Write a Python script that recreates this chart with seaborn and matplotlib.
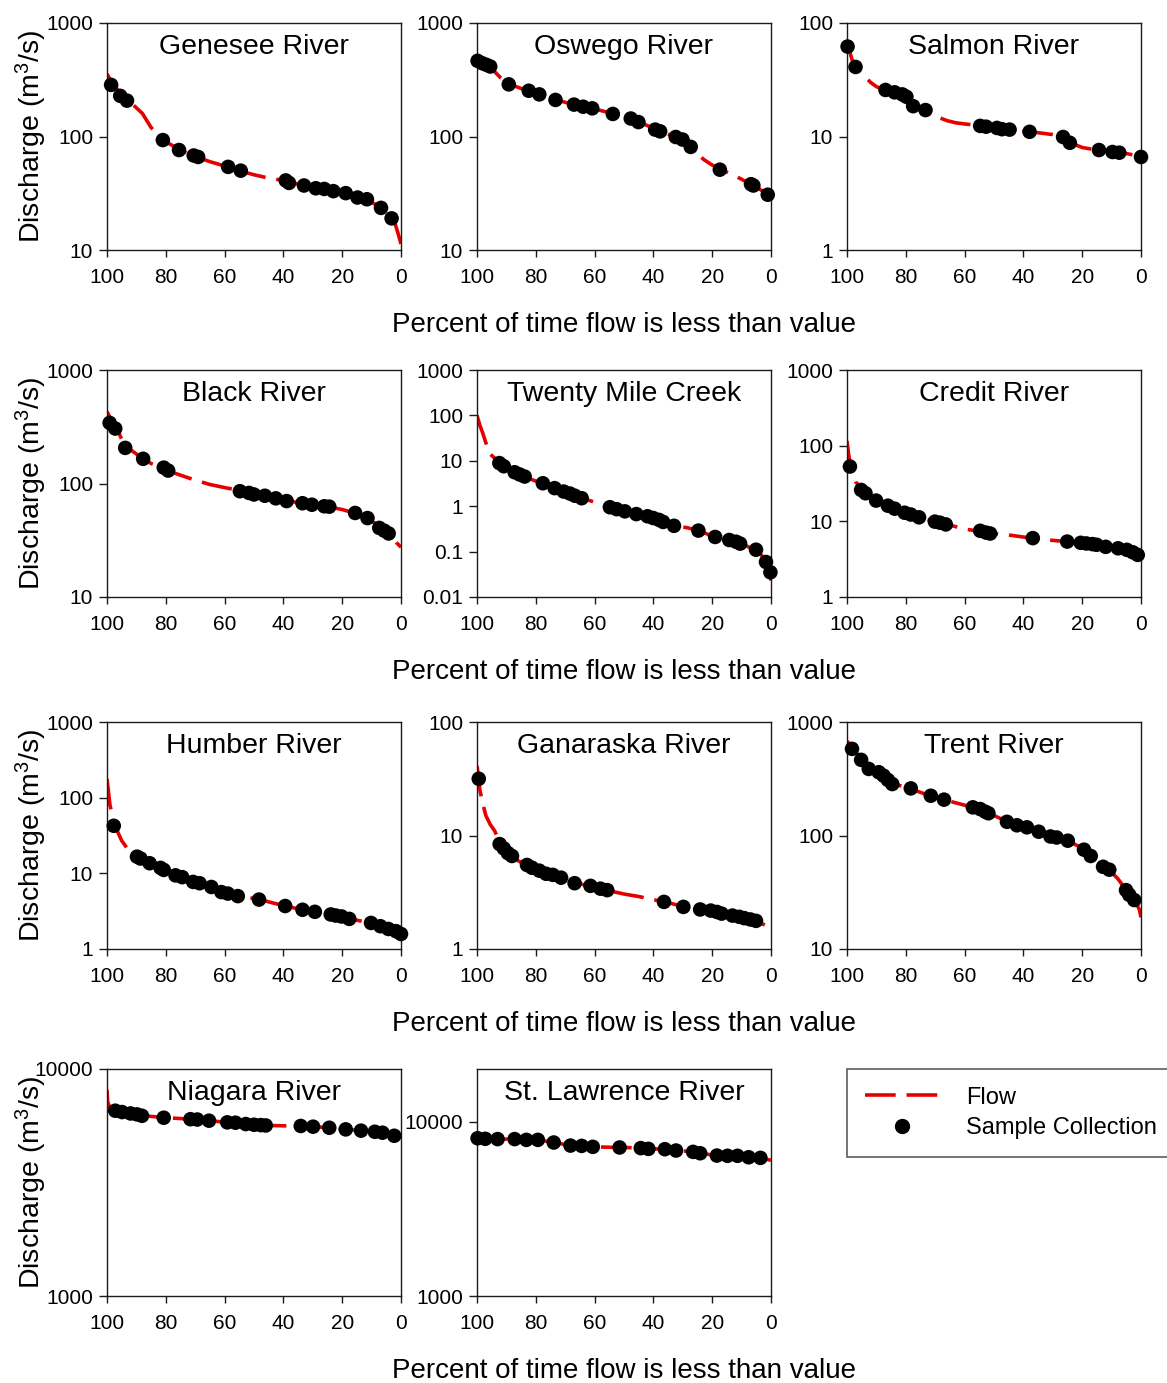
import matplotlib
matplotlib.use("Agg")
import matplotlib.pyplot as plt
from matplotlib.lines import Line2D
from matplotlib.ticker import NullLocator
import seaborn as sns

# flow duration curves (percent of time, discharge m3/s) and sample collection points
# all values

genesee_flow_pct = [100, 98, 95, 92, 88, 85, 81, 78, 74, 70, 65, 60, 55, 50, 45, 40, 35, 30, 25, 20, 15, 12, 9, 6, 4, 2, 1, 0]
genesee_flow_q = [355, 290, 235, 200, 160, 120, 93, 84, 74, 67, 60, 55, 50, 46, 43, 41, 38, 35.5, 34, 32, 29.5, 28, 25.5, 23, 20.5, 17, 14, 11.3]
genesee_pct = [98.6, 95.5, 93.2, 81.0, 75.5, 70.5, 69.0, 58.8, 54.5, 39.2, 38.1, 33, 29, 26.1, 23, 18.8, 14.8, 11.6, 6.8, 3.2]
genesee_q = [285, 228, 207, 93, 76, 68, 66, 54, 50, 41, 39, 37, 35, 34.5, 33, 31.7, 29, 28, 23.5, 19]

oswego_flow_pct = [100, 97, 95, 92, 89, 85, 80, 75, 70, 65, 60, 55, 50, 45, 40, 35, 30, 27, 23, 20, 17, 13, 10, 7, 4, 2, 0]
oswego_flow_q = [480, 430, 395, 330, 290, 265, 240, 218, 200, 186, 175, 162, 150, 135, 118, 105, 93, 80, 63, 56, 51, 46, 42, 38, 34.5, 32, 29.5]
oswego_pct = [99.8, 98.3, 96.8, 95.5, 89.2, 82.4, 78.8, 73.3, 67.0, 63.9, 60.8, 53.8, 47.7, 45.1, 39.4, 37.7, 32.4, 30.1, 27.3, 17.4, 6.8, 6.0, 1.1]
oswego_q = [464, 443, 428, 414, 288, 253, 235, 210, 191, 183, 177, 158, 144, 134, 115, 111, 99, 94, 81, 51, 38, 37, 30.7]

salmon_flow_pct = [100, 99, 98, 96, 94, 92, 90, 87, 84, 81, 78, 75, 72, 69, 66, 63, 60, 55, 50, 45, 40, 35, 30, 27, 24, 20, 15, 10, 7, 4, 2, 0]
salmon_flow_q = [64, 55, 45, 38, 34, 30, 27.5, 25.5, 24.3, 22.8, 19.5, 17.5, 16, 14.8, 13.8, 13.2, 12.9, 12.5, 12, 11.5, 11.1, 10.8, 10.4, 9.9, 8.8, 8.0, 7.6, 7.4, 7.2, 7.0, 6.8, 6.4]
salmon_pct = [99.8, 97.1, 86.9, 83.8, 81.2, 79.8, 77.5, 73.3, 54.7, 52.7, 49.0, 47.3, 44.7, 37.9, 26.5, 24.2, 14.3, 9.7, 7.4, 0]
salmon_q = [62, 41, 25.7, 24.5, 23.5, 22.4, 18.5, 17.1, 12.4, 12.2, 11.9, 11.6, 11.5, 11.0, 9.9, 8.8, 7.6, 7.3, 7.2, 6.6]

black_flow_pct = [100, 98, 96, 94, 91, 88, 85, 81, 78, 74, 70, 65, 60, 55, 50, 45, 40, 35, 30, 25, 20, 16, 12, 9, 7, 5, 3, 1.5, 0]
black_flow_q = [430, 340, 280, 215, 190, 167, 150, 137, 126, 116, 107, 98, 92, 87, 81, 76, 71, 68, 65, 62.5, 59, 55, 50, 45, 40.5, 37.5, 34, 30, 27.5]
black_pct = [99.1, 97.2, 93.8, 87.7, 80.7, 79.2, 54.8, 51.7, 50, 46.3, 42.6, 38.9, 33.5, 30.3, 26.1, 24.4, 15.6, 11.4, 7.4, 5.7, 4.2]
black_q = [342, 305, 206, 165, 138, 130, 85.5, 82.6, 80, 78, 74, 70, 67, 65, 63, 62.5, 55, 49.6, 40.6, 38.4, 36.3]

twenty_flow_pct = [100, 99, 98, 97, 95.5, 93, 91, 88, 85, 82, 78, 74, 70, 66, 62, 58, 55, 50, 45, 40, 36, 32, 28, 24, 20, 15, 11, 8, 5, 3, 1.5, 0.5, 0]
twenty_flow_q = [100, 60, 40, 25, 14, 10, 8, 6, 4.9, 4, 3.2, 2.5, 2.05, 1.7, 1.35, 1.12, 0.96, 0.79, 0.66, 0.56, 0.45, 0.37, 0.33, 0.28, 0.22, 0.18, 0.155, 0.13, 0.105, 0.08, 0.055, 0.035, 0.023]
twenty_pct = [92.4, 90.9, 87.2, 85.5, 83.8, 77.6, 73.6, 70.5, 68.4, 66.7, 64.4, 54.8, 52.5, 49.7, 45.8, 42.0, 40.1, 38.1, 36.7, 33.0, 24.7, 19.0, 14.2, 11.9, 10.5, 5.1, 1.7, 0.2]
twenty_q = [8.9, 7.6, 5.6, 5.0, 4.5, 3.2, 2.5, 2.1, 1.9, 1.7, 1.5, 0.95, 0.86, 0.77, 0.67, 0.60, 0.55, 0.50, 0.45, 0.37, 0.29, 0.21, 0.18, 0.165, 0.15, 0.11, 0.059, 0.035]

credit_flow_pct = [100, 99.5, 99, 98, 97, 95, 93, 90, 87, 84, 80, 76, 72, 68, 64, 60, 55, 50, 45, 40, 35, 30, 25, 20, 15, 10, 6, 3, 1, 0]
credit_flow_q = [115, 80, 60, 42, 33, 27, 22.5, 18.8, 16.5, 14.7, 13, 11.5, 10.4, 9.5, 8.7, 7.9, 7.4, 6.9, 6.6, 6.2, 5.9, 5.6, 5.4, 5.2, 4.9, 4.6, 4.3, 3.9, 3.5, 3.2]
credit_pct = [99.0, 95.2, 93.7, 90.1, 86.1, 83.8, 80.4, 78.3, 75.5, 70.1, 68.4, 66.4, 54.7, 52.7, 51.3, 36.8, 25.1, 20.5, 18.6, 16.5, 15.1, 12.0, 7.8, 4.8, 2.8, 1.1]
credit_q = [53, 26, 23.5, 18.8, 16.1, 14.7, 13.0, 12.3, 11.3, 9.9, 9.6, 9.1, 7.5, 7.1, 6.9, 6.0, 5.4, 5.2, 5.1, 5.0, 4.9, 4.6, 4.4, 4.2, 3.9, 3.6]

humber_flow_pct = [100, 99.5, 99, 98, 97, 95, 93, 90, 87, 84, 81, 78, 75, 72, 68, 64, 60, 56, 52, 48, 44, 40, 35, 30, 25, 20, 15, 10, 6, 3, 0]
humber_flow_q = [177, 120, 80, 55, 40, 27, 21, 16.5, 14.5, 12.8, 11.3, 9.8, 8.8, 8, 7.2, 6.4, 5.6, 5.1, 4.8, 4.5, 4.1, 3.75, 3.4, 3.1, 2.9, 2.65, 2.4, 2.2, 1.95, 1.75, 1.55]
humber_pct = [97.7, 89.8, 88.6, 85.5, 81.8, 80.7, 76.7, 74.4, 70.7, 68.5, 64.5, 61.1, 58.9, 55.5, 48.3, 39.4, 33.5, 29.3, 23.9, 22.2, 20.2, 17.6, 10.2, 7.0, 4.3, 1.7, 0]
humber_q = [42.5, 16.6, 15.7, 13.6, 11.8, 11.1, 9.4, 8.9, 7.7, 7.4, 6.6, 5.65, 5.4, 5.0, 4.5, 3.7, 3.3, 3.1, 2.86, 2.77, 2.69, 2.50, 2.21, 2.0, 1.84, 1.72, 1.58]

ganaraska_flow_pct = [100, 99.5, 99, 98, 97, 95.5, 94, 92.5, 91, 89, 87, 84, 81, 78, 75, 72, 68, 64, 60, 56, 50, 45, 40, 36, 30, 25, 20, 15, 10, 5, 2, 0]
ganaraska_flow_q = [41, 33, 25, 19, 15, 12.5, 11, 9, 7.8, 6.9, 6.2, 5.6, 5.2, 4.85, 4.5, 4.25, 3.95, 3.7, 3.5, 3.3, 3.05, 2.9, 2.72, 2.6, 2.37, 2.23, 2.15, 2.0, 1.9, 1.77, 1.62, 1.48]
ganaraska_pct = [99.4, 92.3, 90.9, 89.5, 88.1, 83.0, 81.3, 78.8, 76.5, 74.2, 71.4, 66.8, 61.4, 58.0, 55.7, 36.4, 29.8, 24.1, 20.5, 18.4, 16.8, 13.1, 10.8, 9.1, 7.0, 5.1]
ganaraska_q = [31.6, 8.4, 7.7, 7.0, 6.6, 5.5, 5.2, 4.9, 4.6, 4.5, 4.25, 3.8, 3.6, 3.4, 3.3, 2.6, 2.35, 2.23, 2.18, 2.12, 2.05, 1.97, 1.92, 1.87, 1.82, 1.77]

trent_flow_pct = [100, 98, 96, 94, 92, 90, 88, 86, 84, 80, 76, 72, 68, 64, 60, 56, 52, 48, 44, 40, 36, 32, 28, 24, 20, 17, 14, 11, 8, 5, 3, 1.5, 0.5, 0]
trent_flow_q = [680, 590, 500, 430, 385, 360, 335, 305, 285, 265, 245, 225, 210, 197, 185, 172, 158, 142, 129, 120, 111, 102, 95, 88, 77, 67, 57, 50, 42, 33, 28.5, 25, 22, 19]
trent_pct = [98.3, 95.2, 92.6, 89.2, 87.6, 86.1, 84.6, 78.3, 71.5, 67.0, 57.2, 54.7, 53.0, 51.9, 45.6, 42.2, 38.8, 34.8, 30.8, 28.7, 24.9, 19.4, 17.1, 12.9, 10.8, 5.1, 4.0, 2.3]
trent_q = [580, 464, 386, 361, 337, 309, 284, 260, 224, 207, 177, 171, 162, 157, 132, 123, 118, 108, 98, 96, 90, 75, 66, 53, 50, 33, 30, 27]

niagara_flow_pct = [100, 99.8, 99, 97, 94, 90, 86, 80, 75, 70, 65, 60, 55, 50, 45, 40, 35, 30, 25, 20, 15, 10, 6, 3, 0]
niagara_flow_q = [8100, 7200, 6700, 6550, 6450, 6320, 6200, 6100, 6050, 5990, 5920, 5830, 5780, 5690, 5640, 5620, 5610, 5570, 5520, 5440, 5370, 5300, 5230, 5120, 5000]
niagara_pct = [97.2, 94.9, 92.0, 89.8, 88.1, 80.7, 71.6, 69.3, 65.3, 59.1, 56.3, 52.8, 50.0, 47.7, 46.0, 34.1, 29.9, 24.4, 18.8, 13.6, 8.9, 6.3, 2.3]
niagara_q = [6550, 6460, 6370, 6310, 6220, 6100, 6010, 5990, 5920, 5820, 5800, 5720, 5680, 5660, 5640, 5610, 5570, 5510, 5420, 5350, 5290, 5240, 5080]

stlawrence_flow_pct = [100, 97, 93, 88, 84, 80, 76, 72, 68, 64, 60, 55, 50, 45, 40, 36, 32, 28, 24, 20, 16, 12, 8, 4, 0]
stlawrence_flow_q = [8100, 7990, 7940, 7920, 7870, 7840, 7700, 7480, 7290, 7240, 7160, 7120, 7100, 7050, 6970, 6940, 6830, 6740, 6600, 6420, 6370, 6350, 6250, 6180, 6000]
stlawrence_pct = [99.8, 97.2, 93.0, 87.2, 83.2, 79.3, 73.9, 68.2, 64.4, 60.6, 51.5, 44.3, 41.7, 36.1, 32.3, 26.5, 24.1, 18.4, 14.8, 11.4, 7.6, 3.6]
stlawrence_q = [8020, 7960, 7930, 7930, 7850, 7850, 7580, 7280, 7250, 7160, 7100, 7040, 6970, 6940, 6820, 6700, 6580, 6380, 6360, 6360, 6240, 6190]

river_names = ["Genesee River", "Oswego River", "Salmon River", "Black River",
               "Twenty Mile Creek", "Credit River", "Humber River", "Ganaraska River",
               "Trent River", "Niagara River", "St. Lawrence River"]
y_limits = [(10, 1000), (10, 1000), (1, 100), (10, 1000), (0.01, 1000), (1, 1000),
            (1, 1000), (1, 100), (10, 1000), (1000, 10000), (1000, 20000)]
y_ticks = [[10, 100, 1000], [10, 100, 1000], [1, 10, 100], [10, 100, 1000],
           [0.01, 0.1, 1, 10, 100, 1000], [1, 10, 100, 1000], [1, 10, 100, 1000],
           [1, 10, 100], [10, 100, 1000], [1000, 10000], [1000, 10000]]

panels = [
    (genesee_flow_pct, genesee_flow_q, genesee_pct, genesee_q),
    (oswego_flow_pct, oswego_flow_q, oswego_pct, oswego_q),
    (salmon_flow_pct, salmon_flow_q, salmon_pct, salmon_q),
    (black_flow_pct, black_flow_q, black_pct, black_q),
    (twenty_flow_pct, twenty_flow_q, twenty_pct, twenty_q),
    (credit_flow_pct, credit_flow_q, credit_pct, credit_q),
    (humber_flow_pct, humber_flow_q, humber_pct, humber_q),
    (ganaraska_flow_pct, ganaraska_flow_q, ganaraska_pct, ganaraska_q),
    (trent_flow_pct, trent_flow_q, trent_pct, trent_q),
    (niagara_flow_pct, niagara_flow_q, niagara_pct, niagara_q),
    (stlawrence_flow_pct, stlawrence_flow_q, stlawrence_pct, stlawrence_q),
]

RED = "#e60000"
DASH = (8.5, 3.0)
LW = 2.6

sns.set_style("ticks")
plt.rcParams["font.family"] = ["Liberation Sans", "DejaVu Sans"]
plt.rcParams["mathtext.default"] = "regular"
plt.rcParams["text.color"] = "black"
plt.rcParams["axes.edgecolor"] = "#1a1a1a"
plt.rcParams["axes.linewidth"] = 1.0
plt.rcParams["xtick.color"] = "#1a1a1a"
plt.rcParams["ytick.color"] = "#1a1a1a"
plt.rcParams["xtick.labelcolor"] = "black"
plt.rcParams["ytick.labelcolor"] = "black"

W, H = 1167, 1383
col_x = [107, 477, 847]
row_top = [23, 370, 722, 1069]
aw, ah = 294, 227

fig = plt.figure(figsize=(W / 100, H / 100), dpi=100)

for i, (fp, fq, sp, sq) in enumerate(panels):
    r, c = divmod(i, 3)
    ax = fig.add_axes([col_x[c] / W, 1 - (row_top[r] + ah) / H, aw / W, ah / H])
    ax.set_yscale("log")
    sns.lineplot(x=fp, y=fq, ax=ax, color=RED, linewidth=LW, estimator=None, sort=False)
    ax.lines[-1].set_dashes(DASH)
    sns.scatterplot(x=sp, y=sq, ax=ax, color="black", s=110, edgecolor="none",
                    linewidth=0, zorder=3, clip_on=False, legend=False)
    ax.set_xlim(100, 0)
    ax.set_xticks([100, 80, 60, 40, 20, 0])
    ax.set_ylim(*y_limits[i])
    ax.set_yticks(y_ticks[i])
    ax.set_yticklabels([f"{t:g}" for t in y_ticks[i]])
    ax.yaxis.set_minor_locator(NullLocator())
    ax.tick_params(axis="x", length=5, width=1, pad=8, labelsize=15)
    ax.tick_params(axis="y", length=6, width=1, pad=4, labelsize=15)
    ax.set_xlabel("")
    ax.set_ylabel("")
    ax.text(0.5, 1 - 24 / ah, river_names[i], transform=ax.transAxes,
            ha="center", va="center", fontsize=20.5)

for top in row_top:
    fig.text(624 / W, 1 - (top + ah + 75) / H, "Percent of time flow is less than value",
             ha="center", va="center", fontsize=20)
    fig.text(31 / W, 1 - (top + ah / 2) / H, r"Discharge (m$^3$/s)",
             ha="center", va="center", rotation=90, fontsize=20.5)

handles = [Line2D([], [], color=RED, lw=LW, dashes=DASH),
           Line2D([], [], marker="o", color="black", ls="none", markersize=10)]
leg = fig.legend(handles=handles, labels=["Flow", "Sample Collection"],
                 loc="upper left", bbox_to_anchor=(847 / W, 1 - 1069 / H),
                 frameon=True, fancybox=False, edgecolor="#333333", fontsize=17,
                 handlelength=3.2, handletextpad=1.1, borderpad=0.75,
                 labelspacing=0.35, borderaxespad=0)
leg.get_frame().set_linewidth(1.2)

fig.savefig("out.png", dpi=100)
